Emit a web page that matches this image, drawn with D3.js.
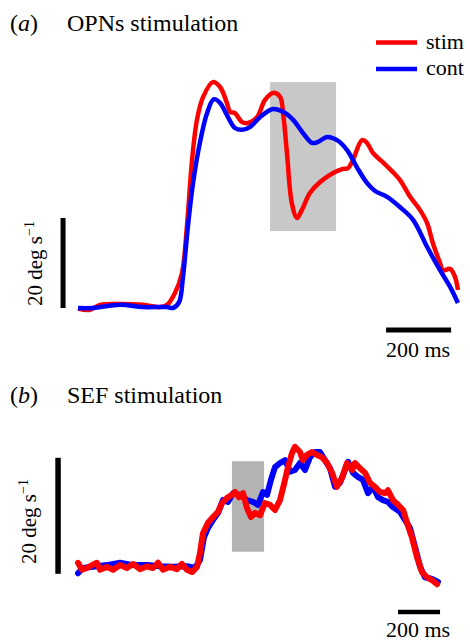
<!DOCTYPE html>
<html>
<head>
<meta charset="utf-8">
<script src="https://cdn.jsdelivr.net/npm/d3@7"></script>
<style>
  body { margin: 0; background: #fff; }
  text { font-family: "Liberation Serif", "Times New Roman", serif; fill: #000; }
</style>
</head>
<body>
<div id="chart"></div>
<script>
// panel (a) OPNs stimulation, time in ms, eye velocity in deg/s
var timeStimA = [0, 37, 68, 129, 200, 252, 274, 298, 320, 335, 351, 366, 385, 415, 437, 458, 468, 483, 505, 523, 551, 575, 600, 622, 631, 643, 658, 674, 689, 714, 745, 785, 815, 831, 846, 874, 889, 908, 938, 969, 991, 1022, 1052, 1074, 1092, 1114, 1123, 1145, 1160, 1169];
var velStimA = [-0.1, -0.4, 0.7, 0.9, 0.7, 0.2, 0.7, 3.3, 7.8, 18.0, 32.9, 41.8, 46.9, 50.2, 49.1, 45.6, 43.6, 43.3, 41.3, 41.1, 42.4, 46.2, 47.8, 46.9, 43.3, 34.4, 23.3, 20.0, 21.8, 25.6, 28.0, 30.0, 30.9, 31.1, 32.9, 37.3, 36.7, 34.4, 32.4, 30.2, 28.4, 24.7, 21.8, 18.9, 14.4, 10.0, 8.4, 8.7, 6.9, 4.0];
var timeContA = [0, 46, 129, 200, 274, 292, 311, 323, 338, 354, 375, 397, 418, 437, 458, 483, 505, 529, 560, 600, 631, 662, 692, 720, 738, 766, 797, 828, 858, 889, 914, 951, 991, 1031, 1074, 1114, 1145, 1169];
var velContA = [0, 0, 0.7, 0.2, 0.2, 0, 1.3, 6.9, 18.0, 27.8, 36.7, 43.3, 46.4, 45.6, 42.9, 40.0, 39.6, 40.2, 42.4, 44.2, 43.6, 41.8, 38.9, 36.7, 36.9, 38.0, 37.3, 35.1, 31.3, 27.8, 26.0, 24.7, 22.4, 19.6, 13.6, 8.4, 4.7, 1.1];
var stimWindowA = [591, 794];
var stimVelA = [17.1, 50.2];

// panel (b) SEF stimulation
var timeStimB = [0, 19, 43, 67, 90, 105, 138, 167, 200, 233, 262, 295, 329, 357, 381, 405, 438, 471, 495, 519, 543, 567, 581, 595, 619, 643, 667, 686, 710, 733, 748, 767, 786, 805, 824, 843, 867, 890, 914, 938, 962, 986, 1000, 1019, 1033, 1057, 1071, 1090, 1114, 1138, 1162, 1186, 1210, 1233, 1257, 1281, 1305, 1319, 1343, 1367, 1390, 1414, 1438, 1462, 1476, 1500, 1524, 1548, 1567, 1590, 1614, 1638, 1662, 1686, 1710];
var velStimB = [0.9, -0.3, 0, 0.5, 0.9, -0.3, 0.2, -0.3, 0.5, 0, 0.7, -0.2, 0.3, 0, 0.9, -0.3, 0.2, -0.2, 0.7, -0.3, -0.7, 0.2, 2.6, 6.0, 7.8, 8.8, 9.7, 11.2, 12.1, 12.6, 13.1, 12.2, 12.9, 10.3, 8.8, 9.5, 9.1, 11.2, 10.9, 10.0, 11.7, 15.2, 17.4, 19.8, 20.9, 20.0, 18.6, 19.5, 20.0, 19.5, 19.1, 18.1, 16.4, 14.0, 15.5, 18.1, 16.9, 18.1, 17.2, 16.4, 14.7, 14.0, 13.1, 12.9, 13.4, 11.7, 10.9, 10.0, 7.8, 5.3, 1.9, -0.7, -1.6, -2.1, -2.8];
var timeContB = [0, 24, 71, 138, 200, 262, 329, 390, 452, 519, 557, 581, 600, 619, 643, 667, 690, 714, 738, 771, 805, 833, 857, 881, 900, 919, 938, 962, 986, 1010, 1033, 1057, 1081, 1105, 1129, 1152, 1176, 1200, 1224, 1248, 1271, 1286, 1310, 1333, 1357, 1381, 1405, 1429, 1452, 1476, 1500, 1533, 1557, 1581, 1605, 1629, 1652, 1686, 1714];
var velContB = [-0.9, 0, 0.2, 0.5, 0.9, 0.5, 0.5, 0.3, 0.2, 0.3, 0, 1.4, 5.3, 6.9, 8.3, 9.5, 11.7, 11.4, 12.9, 12.6, 11.7, 11.4, 10.9, 13.1, 12.6, 15.2, 17.4, 18.1, 18.6, 16.6, 16.9, 18.1, 16.9, 19.1, 20.0, 20.0, 18.6, 17.2, 14.0, 14.7, 16.9, 18.3, 16.4, 15.7, 15.2, 12.9, 14.0, 12.2, 11.7, 11.4, 10.5, 9.7, 8.3, 6.9, 3.6, 0.2, -1.6, -1.9, -2.4];
var stimWindowB = [733, 886];
var stimVelB = [2.8, 18.4];

var legendLabels = ["stim", "cont"];
var seriesColors = ["#ff0000", "#0000ff"];

var svg = d3.select("#chart")
  .append("svg")
  .attr("width", 470)
  .attr("height", 642);

function zip(ts, vs) {
  return ts.map(function(t, i) { return [t, vs[i]]; });
}

// ---------- panel (a)
var xA = d3.scaleLinear().domain([0, 200]).range([78, 143]);
var yA = d3.scaleLinear().domain([0, 20]).range([308, 218]);

var title = svg.append("text").attr("x", 10).attr("y", 31).attr("font-size", "24px");
title.append("tspan").text("(");
title.append("tspan").attr("font-style", "italic").text("a");
title.append("tspan").text(")");
svg.append("text").attr("x", 67).attr("y", 31).attr("font-size", "24px").text("OPNs stimulation");

svg.append("rect")
  .attr("x", xA(stimWindowA[0]))
  .attr("y", yA(stimVelA[1]))
  .attr("width", xA(stimWindowA[1]) - xA(stimWindowA[0]))
  .attr("height", yA(stimVelA[0]) - yA(stimVelA[1]))
  .style("fill", "#c8c8c8");

var lineA = d3.line()
  .x(function(d) { return xA(d[0]); })
  .y(function(d) { return yA(d[1]); })
  .curve(d3.curveCatmullRom.alpha(0.5));

svg.append("path")
  .attr("d", lineA(zip(timeStimA, velStimA)))
  .attr("fill", "none")
  .attr("stroke", seriesColors[0])
  .attr("stroke-width", 4.5)
  .attr("stroke-linejoin", "round");

svg.append("path")
  .attr("d", lineA(zip(timeContA, velContA)))
  .attr("fill", "none")
  .attr("stroke", seriesColors[1])
  .attr("stroke-width", 4.5)
  .attr("stroke-linejoin", "round");

// legend
legendLabels.forEach(function(lab, i) {
  var ly = 42.5 + i * 26.5;
  svg.append("line")
    .attr("x1", 376).attr("x2", 417)
    .attr("y1", ly).attr("y2", ly)
    .attr("stroke", seriesColors[i])
    .attr("stroke-width", 4.5);
  svg.append("text")
    .attr("x", 426).attr("y", ly + 6)
    .attr("font-size", "22px")
    .text(lab);
});

// scale bars (a)
svg.append("line")
  .attr("x1", xA(-46)).attr("x2", xA(-46))
  .attr("y1", yA(0)).attr("y2", yA(20))
  .attr("stroke", "#000").attr("stroke-width", 5);

var ylabA = svg.append("text")
  .attr("transform", "translate(42,306) rotate(-90)")
  .attr("font-size", "21px");
ylabA.append("tspan").text("20 deg s");
ylabA.append("tspan").attr("font-size", "14px").attr("dy", -8).text("\u22121");

svg.append("line")
  .attr("x1", xA(948)).attr("x2", xA(1148))
  .attr("y1", yA(-4.9)).attr("y2", yA(-4.9))
  .attr("stroke", "#000").attr("stroke-width", 5);

svg.append("text")
  .attr("x", 418).attr("y", 357)
  .attr("text-anchor", "middle")
  .attr("font-size", "22px")
  .text("200 ms");

// ---------- panel (b)
var xB = d3.scaleLinear().domain([0, 200]).range([78, 120]);
var yB = d3.scaleLinear().domain([0, 20]).range([568, 452]);

var titleB = svg.append("text").attr("x", 10).attr("y", 403).attr("font-size", "24px");
titleB.append("tspan").text("(");
titleB.append("tspan").attr("font-style", "italic").text("b");
titleB.append("tspan").text(")");
svg.append("text").attr("x", 67).attr("y", 403).attr("font-size", "24px").text("SEF stimulation");

svg.append("rect")
  .attr("x", xB(stimWindowB[0]))
  .attr("y", yB(stimVelB[1]))
  .attr("width", xB(stimWindowB[1]) - xB(stimWindowB[0]))
  .attr("height", yB(stimVelB[0]) - yB(stimVelB[1]))
  .style("fill", "#b3b3b3");

var lineB = d3.line()
  .x(function(d) { return xB(d[0]); })
  .y(function(d) { return yB(d[1]); });

svg.append("path")
  .attr("d", lineB(zip(timeContB, velContB)))
  .attr("fill", "none")
  .attr("stroke", seriesColors[1])
  .attr("stroke-width", 6)
  .attr("stroke-linejoin", "round")
  .attr("stroke-linecap", "round");

svg.append("path")
  .attr("d", lineB(zip(timeStimB, velStimB)))
  .attr("fill", "none")
  .attr("stroke", seriesColors[0])
  .attr("stroke-width", 6)
  .attr("stroke-linejoin", "round")
  .attr("stroke-linecap", "round");

// scale bars (b)
svg.append("line")
  .attr("x1", xB(-95)).attr("x2", xB(-95))
  .attr("y1", yB(-1)).attr("y2", yB(19))
  .attr("stroke", "#000").attr("stroke-width", 5.5);

var ylabB = svg.append("text")
  .attr("transform", "translate(36,564) rotate(-90)")
  .attr("font-size", "21px");
ylabB.append("tspan").text("20 deg s");
ylabB.append("tspan").attr("font-size", "14px").attr("dy", -8).text("\u22121");

svg.append("line")
  .attr("x1", xB(1524)).attr("x2", xB(1724))
  .attr("y1", yB(-7.6)).attr("y2", yB(-7.6))
  .attr("stroke", "#000").attr("stroke-width", 4.5);

svg.append("text")
  .attr("x", 418).attr("y", 637)
  .attr("text-anchor", "middle")
  .attr("font-size", "22px")
  .text("200 ms");
</script>
</body>
</html>
